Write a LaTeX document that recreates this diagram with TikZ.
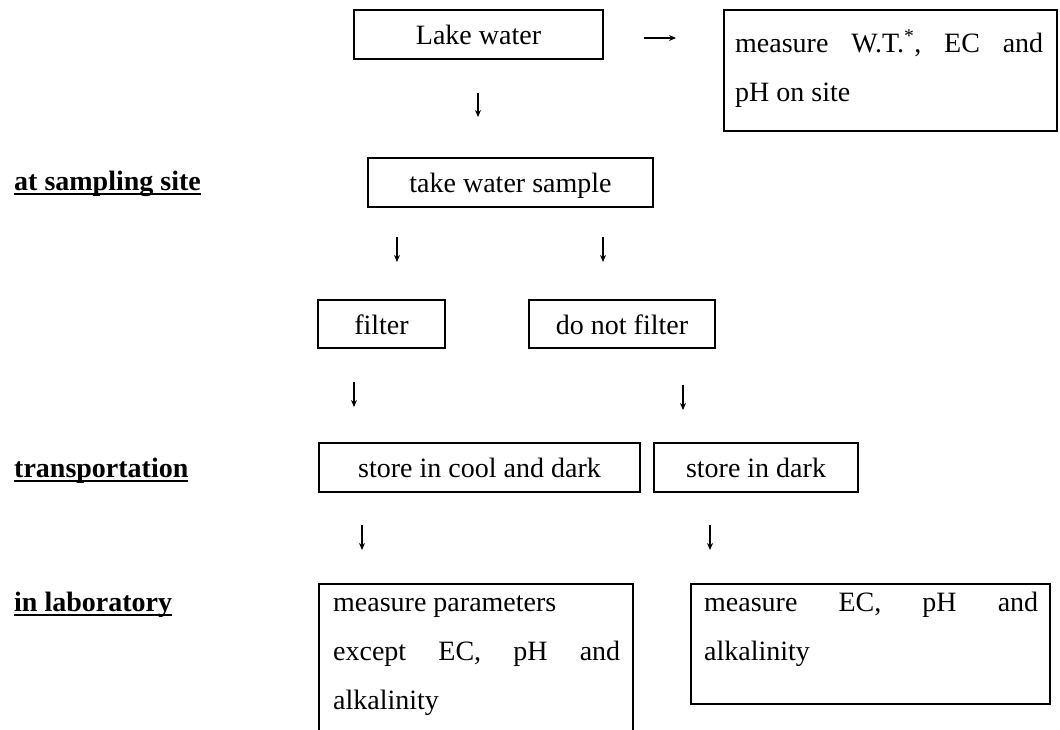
\documentclass[tikz,border=0pt]{standalone}
\usepackage{fontspec}
\setmainfont{Liberation Serif}
\usetikzlibrary{arrows.meta}
\newcommand\myul[1]{\setbox0\hbox{#1}\rlap{\rule[-5pt]{\wd0}{2.2pt}}\box0}
\begin{document}
\begin{tikzpicture}[x=1pt,y=-1pt,
  box/.style={draw, line width=1.4pt, inner sep=0pt, font=\fontsize{28}{48}\selectfont, text height=24pt, text depth=4pt},
  txt/.style={inner sep=0pt, font=\fontsize{28}{48}\selectfont, anchor=base west},
  lab/.style={inner sep=0pt, font=\fontsize{28}{48}\selectfont\bfseries, anchor=base west},
  arr/.style={line width=1.1pt, -{Stealth[length=7pt,width=6pt]}}]
\useasboundingbox (0,0) rectangle (1060,729);
\clip (0,0) rectangle (1060,729);
% boxes
\node[box, minimum width=249pt, minimum height=49pt] (lake) at (478.5,34.5) {Lake water};
\node[box, minimum width=333pt, minimum height=121pt] (site) at (890.5,70.5) {};
\node[box, minimum width=285pt, minimum height=49pt] (take) at (510.5,182.5) {take water sample};
\node[box, minimum width=127pt, minimum height=48pt] (filter) at (381.5,324) {filter};
\node[box, minimum width=186pt, minimum height=48pt] (nofilter) at (622,324) {do not filter};
\node[box, minimum width=321pt, minimum height=49pt] (cool) at (479.5,467.5) {store in cool and dark};
\node[box, minimum width=204pt, minimum height=49pt] (dark) at (756,467.5) {store in dark};
\node[box, minimum width=314pt, minimum height=157pt] (labA) at (476,662.5) {};
\node[box, minimum width=359pt, minimum height=120pt] (labB) at (870.5,644) {};
% texts in multi-line boxes
\node[txt] (siteA) at (735,52) {\hbox to 308pt{measure\hfill W.T.\textsuperscript{*},\hfill EC\hfill and}};
\node[txt] (siteB) at (735,101) {pH on site};
\node[txt] (labA1) at (333,611) {measure parameters};
\node[txt] (labA2) at (333,660) {\hbox to 287pt{except\hfill EC,\hfill pH\hfill and}};
\node[txt] (labA3) at (333,709) {alkalinity};
\node[txt] (labB1) at (704,611) {\hbox to 334pt{measure\hfill EC,\hfill pH\hfill and}};
\node[txt] (labB2) at (704,660) {alkalinity};
% side labels
\node[lab] (l1) at (14,190) {\myul{at sampling site}};
\node[lab] (l2) at (14,477) {\myul{transportation}};
\node[lab] (l3) at (14,611) {\myul{in laboratory}};
% arrows
\coordinate (r0) at (644,38); \coordinate (r1) at (676,38);
\coordinate (a1s) at (478,93); \coordinate (a1e) at (478,117);
\coordinate (a2s) at (397,237); \coordinate (a2e) at (397,262);
\coordinate (a3s) at (603,237); \coordinate (a3e) at (603,262);
\coordinate (a4s) at (354,382); \coordinate (a4e) at (354,407);
\coordinate (a5s) at (683,385); \coordinate (a5e) at (683,410);
\coordinate (a6s) at (362,525); \coordinate (a6e) at (362,550);
\coordinate (a7s) at (710,525); \coordinate (a7e) at (710,550);
\draw[arr] (r0) -- (r1);
\draw[arr] (a1s) -- (a1e);
\draw[arr] (a2s) -- (a2e);
\draw[arr] (a3s) -- (a3e);
\draw[arr] (a4s) -- (a4e);
\draw[arr] (a5s) -- (a5e);
\draw[arr] (a6s) -- (a6e);
\draw[arr] (a7s) -- (a7e);
\end{tikzpicture}
\end{document}
